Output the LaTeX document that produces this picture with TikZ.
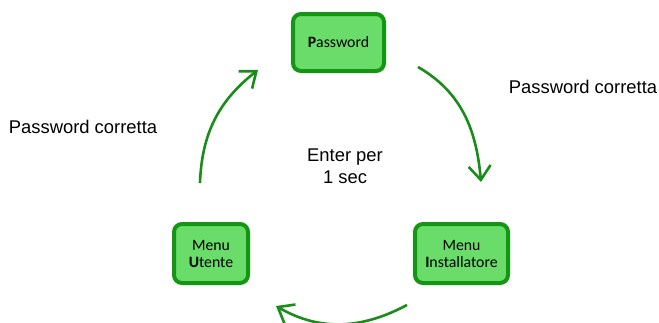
\documentclass[tikz,border=0pt]{standalone}
\usepackage{fontspec}
\setmainfont{Liberation Sans}
\newfontfamily\calibri{Carlito}
\usetikzlibrary{arrows.meta}
\definecolor{boxfill}{RGB}{106,220,106}
\definecolor{boxline}{RGB}{20,150,20}
\definecolor{arrowgreen}{RGB}{25,140,25}
\begin{document}
\begin{tikzpicture}[x=1pt,y=1pt,
  statebox/.style={draw=boxline, fill=boxfill, line width=4pt, rounded corners=8pt,
    align=center, inner sep=0pt, font=\calibri\fontsize{15.8}{17}\selectfont},
  flow/.style={draw=arrowgreen, line width=2.6pt, -{Straight Barb[length=14pt,width=22pt,line width=2.6pt]}},
  lbl/.style={font=\fontsize{18.4}{22}\selectfont, align=center, inner sep=0pt}]
\useasboundingbox (0,0) rectangle (659,-322);
\node[statebox, minimum width=91pt, minimum height=57pt] (pw) at (338.5,-42.5) {\textbf{P}assword};
\node[statebox, minimum width=74pt, minimum height=59pt] (mu) at (211,-253.5) {Menu\\\textbf{U}tente};
\node[statebox, minimum width=93pt, minimum height=59pt] (mi) at (461.5,-253.5) {Menu\\\textbf{I}nstallatore};
\node[lbl] (l1) at (583,-87) {Password corretta};
\node[lbl] (l2) at (83,-127) {Password corretta};
\node[lbl] (l3) at (345,-166) {Enter per\\1 sec};
\coordinate (a1s) at (200,-183);
\coordinate (a1e) at (258,-70);
\coordinate (a2s) at (418,-67);
\coordinate (a2e) at (481,-182);
\coordinate (a3s) at (407,-305);
\coordinate (a3e) at (276,-306);
\draw[flow] (a1s) to[out=88,in=218] (a1e);
\draw[flow] (a2s) to[out=-30,in=95] (a2e);
\draw[flow] (a3s) to[out=208,in=-30] (a3e);
\end{tikzpicture}
\end{document}
